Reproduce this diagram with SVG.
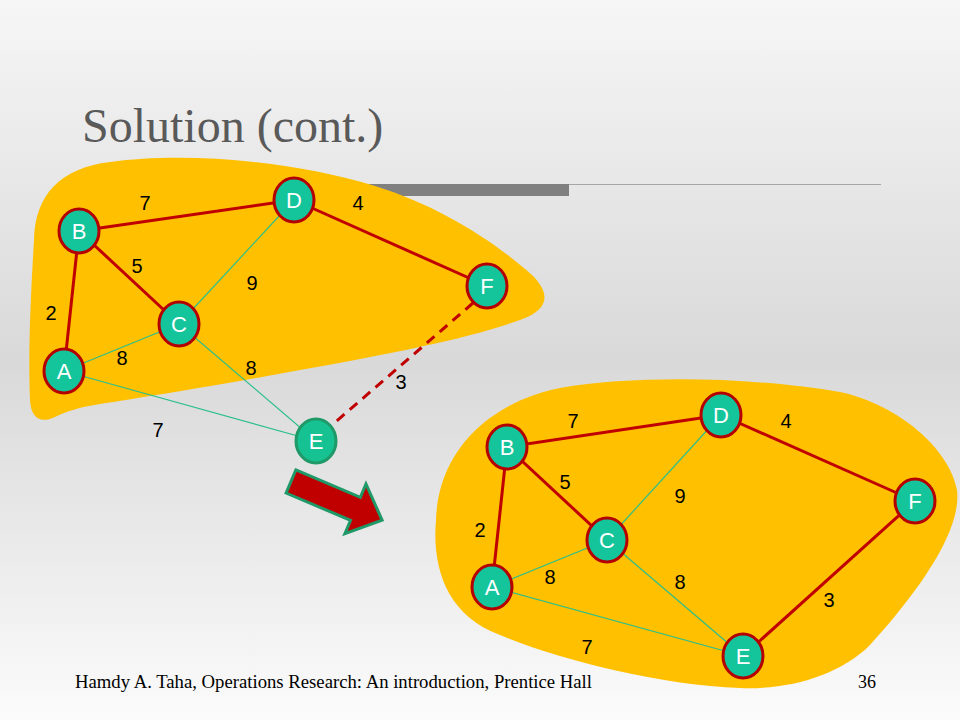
<svg xmlns="http://www.w3.org/2000/svg" width="960" height="720" viewBox="0 0 960 720">
  <defs>
    <linearGradient id="bg" x1="0" y1="0" x2="0" y2="1">
      <stop offset="0" stop-color="#f6f6f6"/>
      <stop offset="0.5" stop-color="#d9d9d9"/>
      <stop offset="1" stop-color="#fbfbfb"/>
    </linearGradient>
    <style>
      .blob { fill: #ffc000; }
      .red { stroke: #c00000; stroke-width: 3; fill: none; }
      .dash { stroke: #c00000; stroke-width: 3; fill: none; stroke-dasharray: 10 7; }
      .grn { stroke: #2cbf8a; stroke-width: 1.2; fill: none; }
      .node ellipse { fill: #14c49b; stroke: #b40000; stroke-width: 3; }
      .node.plain ellipse { fill: #16c192; stroke: #1f9968; }
      .node text { fill: #ffffff; font-family: "Liberation Sans", Arial, sans-serif; font-size: 22px; text-anchor: middle; }
      .lbl { fill: #000000; font-family: "Liberation Sans", Arial, sans-serif; font-size: 20px; text-anchor: middle; }
      .title { fill: #595959; font-family: "Liberation Serif", "Times New Roman", serif; font-size: 48px; }
      .foot { fill: #000000; font-family: "Liberation Serif", "Times New Roman", serif; font-size: 18px; }
    </style>
  </defs>

  <rect x="0" y="0" width="960" height="720" fill="url(#bg)"/>

  <g id="title">
    <text class="title" x="82" y="142">Solution (cont.)</text>
  </g>

  <g id="rule">
    <rect x="300" y="184" width="269" height="12" fill="#808080"/>
    <line x1="569" y1="184.5" x2="881" y2="184.5" stroke="#a6a6a6" stroke-width="1"/>
  </g>

  <g id="blob-top">
    <path class="blob" d="M 34,240 C 35,195 60,168 110,162 C 185,152 290,160 375,186 C 440,206 495,242 532,275 C 552,295 548,310 520,320 C 470,338 400,352 300,370 C 220,385 140,398 100,404 C 80,407 68,411 55,417 C 40,424 31,418 30,400 C 28,350 31,290 34,240 Z"/>
  </g>

  <g id="blob-bottom">
    <path class="blob" d="M 436,520 C 438,450 490,402 560,388 C 640,374 760,378 840,392 C 900,405 950,450 957,490 C 962,530 920,590 870,645 C 840,675 790,690 740,688 C 660,685 560,660 500,635 C 445,615 432,565 436,520 Z"/>
  </g>

  <g id="connectors">
    <!-- top graph -->
    <line class="grn" x1="179" y1="324" x2="294" y2="200"/>
    <line class="grn" x1="64" y1="371" x2="179" y2="324"/>
    <line class="grn" x1="179" y1="324" x2="316" y2="441"/>
    <line class="grn" x1="64" y1="371" x2="316" y2="441"/>
    <line class="red" x1="79" y1="231" x2="294" y2="200"/>
    <line class="red" x1="294" y1="200" x2="487" y2="286"/>
    <line class="red" x1="79" y1="231" x2="179" y2="324"/>
    <line class="red" x1="64" y1="371" x2="79" y2="231"/>
    <line class="dash" x1="473" y1="303" x2="332" y2="425"/>
    <!-- bottom graph -->
    <line class="grn" x1="607" y1="540" x2="721" y2="415"/>
    <line class="grn" x1="492" y1="587" x2="607" y2="540"/>
    <line class="grn" x1="607" y1="540" x2="743" y2="656"/>
    <line class="grn" x1="492" y1="587" x2="743" y2="656"/>
    <line class="red" x1="507" y1="447" x2="721" y2="415"/>
    <line class="red" x1="721" y1="415" x2="915" y2="501"/>
    <line class="red" x1="507" y1="447" x2="607" y2="540"/>
    <line class="red" x1="492" y1="587" x2="507" y2="447"/>
    <line class="red" x1="915" y1="501" x2="743" y2="656"/>
  </g>

  <g id="arrow">
    <polygon points="0,-12.5 70,-12.5 70,-27 99,0 70,27 70,12.5 0,12.5" transform="translate(291,481.5) rotate(23)" fill="#c00000" stroke="#1f9968" stroke-width="3" stroke-linejoin="miter"/>
  </g>

  <g id="top-nodes">
    <g id="t-B" class="node"><ellipse cx="79" cy="231" rx="20" ry="22"/><text x="79" y="239">B</text></g>
    <g id="t-D" class="node"><ellipse cx="294" cy="200" rx="20" ry="22"/><text x="294" y="208">D</text></g>
    <g id="t-F" class="node"><ellipse cx="487" cy="286" rx="20" ry="22"/><text x="487" y="294">F</text></g>
    <g id="t-C" class="node"><ellipse cx="179" cy="324" rx="20" ry="22"/><text x="179" y="332">C</text></g>
    <g id="t-A" class="node"><ellipse cx="64" cy="371" rx="20" ry="22"/><text x="64" y="379">A</text></g>
    <g id="t-E" class="node plain"><ellipse cx="316" cy="441" rx="20" ry="22"/><text x="316" y="449">E</text></g>
  </g>

  <g id="bottom-nodes">
    <g id="b-B" class="node"><ellipse cx="507" cy="447" rx="20" ry="22"/><text x="507" y="455">B</text></g>
    <g id="b-D" class="node"><ellipse cx="721" cy="415" rx="20" ry="22"/><text x="721" y="423">D</text></g>
    <g id="b-F" class="node"><ellipse cx="915" cy="501" rx="20" ry="22"/><text x="915" y="509">F</text></g>
    <g id="b-C" class="node"><ellipse cx="607" cy="540" rx="20" ry="22"/><text x="607" y="548">C</text></g>
    <g id="b-A" class="node"><ellipse cx="492" cy="587" rx="20" ry="22"/><text x="492" y="595">A</text></g>
    <g id="b-E" class="node"><ellipse cx="743" cy="656" rx="20" ry="22"/><text x="743" y="664">E</text></g>
  </g>

  <g id="labels">
    <text class="lbl" x="145" y="210">7</text>
    <text class="lbl" x="358" y="210">4</text>
    <text class="lbl" x="137" y="273">5</text>
    <text class="lbl" x="252" y="290">9</text>
    <text class="lbl" x="51" y="320">2</text>
    <text class="lbl" x="122" y="365">8</text>
    <text class="lbl" x="251" y="375">8</text>
    <text class="lbl" x="401" y="389">3</text>
    <text class="lbl" x="158" y="437">7</text>

    <text class="lbl" x="573" y="428">7</text>
    <text class="lbl" x="786" y="428">4</text>
    <text class="lbl" x="565" y="489">5</text>
    <text class="lbl" x="680" y="503">9</text>
    <text class="lbl" x="480" y="537">2</text>
    <text class="lbl" x="550" y="584">8</text>
    <text class="lbl" x="680" y="589">8</text>
    <text class="lbl" x="829" y="607">3</text>
    <text class="lbl" x="587" y="654">7</text>
  </g>

  <g id="footer">
    <text class="foot" x="75" y="688" textLength="517" lengthAdjust="spacingAndGlyphs">Hamdy A. Taha, Operations Research: An introduction, Prentice Hall</text>
    <text class="foot" x="858" y="688">36</text>
  </g>
</svg>
